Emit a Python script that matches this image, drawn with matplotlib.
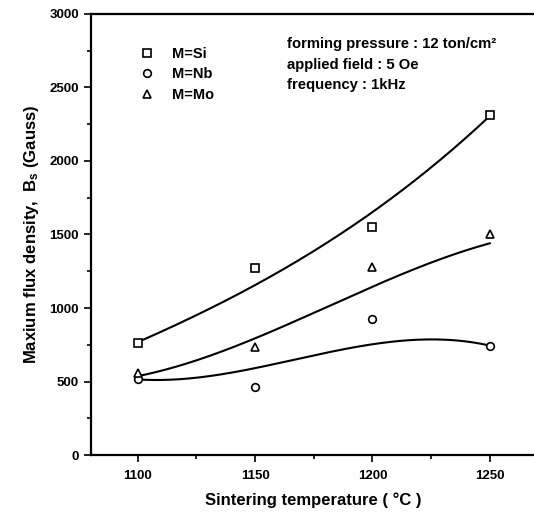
import numpy as np
import matplotlib
matplotlib.use("Agg")
import matplotlib.pyplot as plt
from matplotlib.ticker import MultipleLocator
from math import comb

plt.rcParams["font.family"] = ["Liberation Sans", "DejaVu Sans"]
plt.rcParams["mathtext.default"] = "regular"

temps = [1100, 1150, 1200, 1250]
si = [765, 1271, 1550, 2311]
nb = [515, 463, 925, 745]
mo = [556, 738, 1276, 1503]
# fit lines for Si and Mo at each temperature
si_fit = [768, 1156, 1652, 2305]
mo_fit = [537, 794, 1145, 1440]

labels = ["M=Si", "M=Nb", "M=Mo"]
markers = ["s", "o", "^"]


def bezier(xs, ys, n=200):
    # B-spline style curve: the points act as control points
    t = np.linspace(0, 1, n)
    k = len(xs) - 1
    bx = np.zeros(n)
    by = np.zeros(n)
    for i in range(k + 1):
        b = comb(k, i) * t**i * (1 - t)**(k - i)
        bx += b * xs[i]
        by += b * ys[i]
    return bx, by


def polycurve(xs, ys, deg, n=200):
    xx = np.linspace(xs[0], xs[-1], n)
    c = np.polyfit(np.array(xs) - 1175, ys, deg)
    return xx, np.polyval(c, xx - 1175)


curves = [polycurve(temps, si_fit, 3), bezier(temps, nb),
          polycurve(temps, mo_fit, 3)]

fig = plt.figure(figsize=(5.34, 5.12), dpi=100)
ax = fig.add_axes([0.170, 0.111, 0.835, 0.862])

handles = []
for label, vals, mk, (cx, cy) in zip(labels, [si, nb, mo], markers, curves):
    ax.plot(cx, cy, color="black", lw=1.5)
    h, = ax.plot(temps, vals, linestyle="none", marker=mk, markersize=5.5,
                 markerfacecolor="white", markeredgecolor="black",
                 markeredgewidth=1.2, label=label)
    handles.append(h)

ax.set_xlim(1080, 1270)
ax.set_ylim(0, 3000)
ax.xaxis.set_major_locator(MultipleLocator(50))
ax.xaxis.set_minor_locator(MultipleLocator(25))
ax.yaxis.set_major_locator(MultipleLocator(500))
ax.yaxis.set_minor_locator(MultipleLocator(250))
ax.tick_params(which="both", direction="out", width=1.2)
ax.tick_params(which="major", length=5, labelsize=9.5)
ax.tick_params(axis="x", which="major", pad=6)
ax.tick_params(which="minor", length=3)
for lab in ax.get_xticklabels() + ax.get_yticklabels():
    lab.set_fontweight("bold")

ax.spines["right"].set_visible(False)
for s in ["left", "top", "bottom"]:
    ax.spines[s].set_linewidth(1.6)

ax.set_xlabel("Sintering temperature ( °C )", fontsize=12, fontweight="bold",
              labelpad=7)
ax.set_ylabel("Maxium flux density,  B$_s$ (Gauss)", fontsize=12,
              fontweight="bold", labelpad=6)

leg = ax.legend(handles=handles, loc="upper left",
                bbox_to_anchor=(0.08, 0.955), frameon=False,
                prop={"weight": "bold", "size": 10.5}, handletextpad=1.2,
                labelspacing=0.45, handlelength=1.0)

ax.text(0.44, 0.948, "forming pressure : 12 ton/cm²\napplied field : 5 Oe\n"
        "frequency : 1kHz", transform=ax.transAxes, fontsize=10.7,
        fontweight="bold", va="top", ha="left", linespacing=1.62)

fig.savefig("out.png", dpi=100)
